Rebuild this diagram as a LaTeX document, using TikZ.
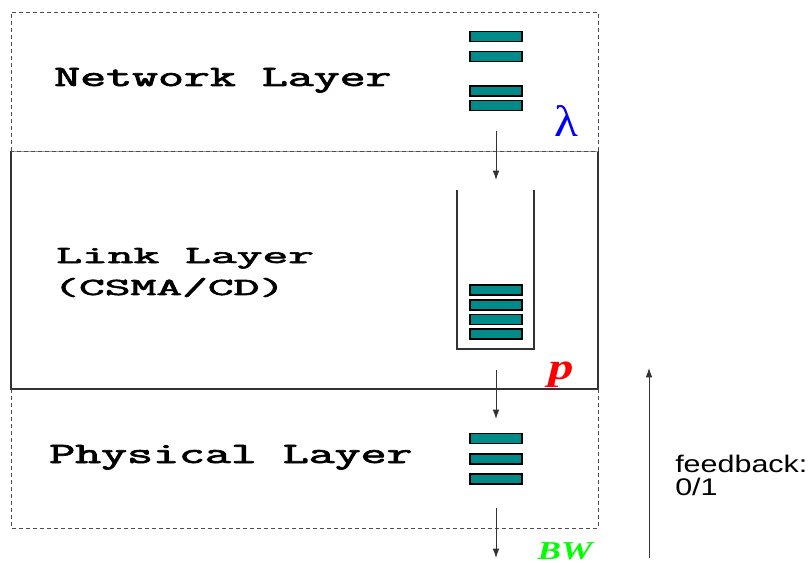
\documentclass[tikz,border=0pt]{standalone}
\usepackage{fontspec}
\usepackage{graphicx}
\usetikzlibrary{arrows.meta}
\newfontfamily\lsans{Liberation Sans}
\newfontfamily\lserif{Liberation Serif}
\newfontfamily\monob{Latin Modern Mono}[FakeBold=2.2]
\definecolor{qteal}{RGB}{0,139,139}
\newcommand\biglbl[1]{\scalebox{1.71}[1]{\fontsize{22.1}{26}\selectfont\monob #1}}
\newcommand\smllbl[1]{\scalebox{2.04}[1]{\fontsize{18.4}{22}\selectfont\monob #1}}
\begin{document}
\begin{tikzpicture}[x=0.75pt,y=-0.75pt,
  pkt/.style={rectangle, draw=black, line width=0.8pt, fill=qteal, minimum width=39pt, minimum height=7.5pt, inner sep=0pt},
  flow/.style={draw=black!80, line width=0.7pt, -{Latex[length=7pt,width=5pt]}},
  dashedbox/.style={draw=black!70, line width=0.7pt, dash pattern=on 3pt off 2.25pt},
  solidbox/.style={draw=black!80, line width=0.8pt},
  lbl/.style={anchor=base west, inner sep=0pt}]
\useasboundingbox (0,0) rectangle (811,563);
% layer boxes
\draw[solidbox] (11,151) -- (11,389) -- (598,389) -- (598,151);
\draw[draw=black!40, line width=0.6pt] (11,151) -- (598,151);
\draw[dashedbox] (11,151) -- (11,12) -- (598,12) -- (598,151) -- cycle;
\draw[dashedbox] (11,389) -- (11,528) -- (598,528) -- (598,389);
% queue container
\draw[solidbox] (457,190) -- (457,349) -- (534,349) -- (534,190);
% packets
\node[pkt] (n1) at (496,36.5) {};
\node[pkt] (n2) at (496,56.5) {};
\node[pkt] (n3) at (496,91) {};
\node[pkt] (n4) at (496,105.5) {};
\node[pkt] (q1) at (496,290) {};
\node[pkt] (q2) at (496,305) {};
\node[pkt] (q3) at (496,319.5) {};
\node[pkt] (q4) at (496,334) {};
\node[pkt] (f1) at (496,438.5) {};
\node[pkt] (f2) at (496,459) {};
\node[pkt] (f3) at (496,479) {};
% arrow end points
\coordinate (a1s) at (496,131);
\coordinate (a1e) at (496,180);
\coordinate (a2s) at (496,370);
\coordinate (a2e) at (496,419);
\coordinate (a3s) at (496,508);
\coordinate (a3e) at (496,558);
\coordinate (fbs) at (649,558);
\coordinate (fbe) at (649,368);
\draw[flow] (a1s) -- (a1e);
\draw[flow] (a2s) -- (a2e);
\draw[flow] (a3s) -- (a3e);
\draw[flow] (fbs) -- (fbe);
% labels
\node[lbl] (net) at (54,86) {\biglbl{Network Layer}};
\node[lbl] (lnk) at (56,263) {\smllbl{Link Layer}};
\node[lbl] (csma) at (53,295) {\smllbl{(CSMA/CD)}};
\node[lbl] (phy) at (49,463) {\biglbl{Physical Layer}};
\node[text=blue, anchor=base, inner sep=0pt] (lam) at (566,137) {\scalebox{1.12}[1]{\fontsize{33}{36}\selectfont\lserif λ}};
\node[text=red, anchor=base, inner sep=0pt] (pp) at (561,379) {\scalebox{1.35}[1]{\fontsize{28}{30}\selectfont\lserif\bfseries\itshape p}};
\node[text=green, anchor=base, inner sep=0pt] (bw) at (565,559) {\scalebox{1.37}[1]{\fontsize{19.3}{22}\selectfont\lserif\bfseries\itshape BW}};
\node[lbl] (fb1) at (675,472) {\scalebox{1.27}[1]{\fontsize{18}{21}\selectfont\lsans feedback:}};
\node[lbl] (fb2) at (675,495) {\scalebox{1.27}[1]{\fontsize{18}{21}\selectfont\lsans 0/1}};
\end{tikzpicture}
\end{document}
